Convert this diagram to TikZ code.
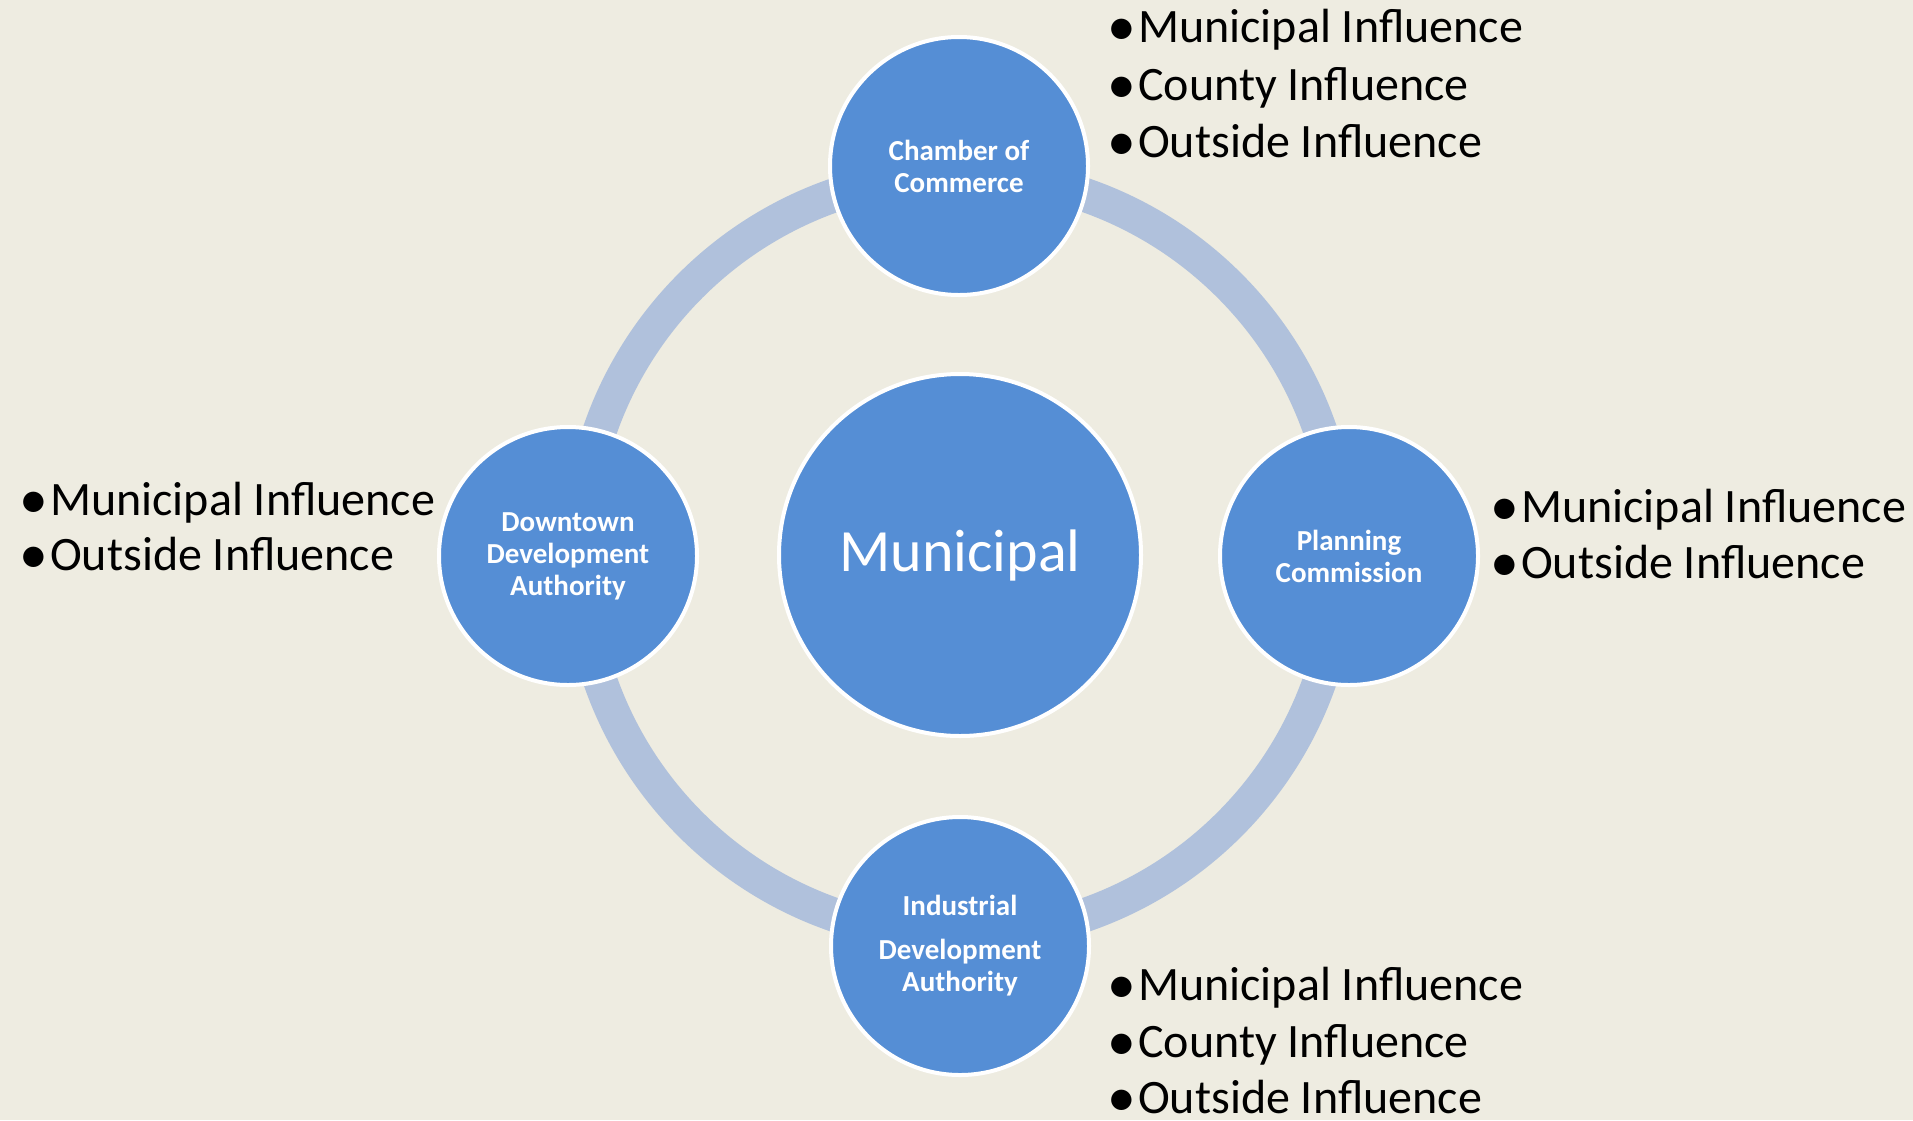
\documentclass[tikz,border=0pt]{standalone}
\usepackage{fontspec}
\setmainfont{Carlito}
\definecolor{bg}{HTML}{EEECE1}
\definecolor{nodeblue}{HTML}{558ED5}
\definecolor{ringblue}{HTML}{B0C1DC}
\newcommand{\bul}{\makebox[31pt][l]{\raisebox{-3pt}{\scalebox{1.2}{•}}}}
\begin{document}
\begin{tikzpicture}[x=1pt,y=-1pt,
  hub/.style={circle, fill=nodeblue, draw=white, line width=4pt, minimum size=362pt, inner sep=0pt, text=white, font=\fontsize{60}{72}\selectfont},
  sat/.style={circle, fill=nodeblue, draw=white, line width=4pt, minimum size=258pt, inner sep=0pt, text=white, align=center, font=\bfseries\fontsize{29}{32}\selectfont},
  item/.style={anchor=base west, inner sep=0pt, text=black, font=\fontsize{48}{57}\selectfont},
  ring/.style={draw=ringblue, line width=34pt},
]
\fill[bg] (0,0) rectangle (1913,1120);
\coordinate (c) at (960,555);
\draw[ring] (c) circle[radius=381pt];
\node[hub] (hub) at (c) {Municipal};
\node[sat] (coc) at (959,166) {Chamber of\\Commerce};
\node[sat] (pc) at (1349,556) {Planning\\Commission};
\node[sat] (ida) at (960,946) {Industrial\\[12pt]Development\\Authority};
\node[sat] (dda) at (568,556) {Downtown\\Development\\Authority};
% lists
\node[item] (t1) at (1107,42) {\bul Municipal Influence};
\node[item] (t2) at (1107,100) {\bul County Influence};
\node[item] (t3) at (1107,157) {\bul Outside Influence};
\node[item] (r1) at (1490,522) {\bul Municipal Influence};
\node[item] (r2) at (1490,578) {\bul Outside Influence};
\node[item] (b1) at (1107,1000) {\bul Municipal Influence};
\node[item] (b2) at (1107,1057) {\bul County Influence};
\node[item] (b3) at (1107,1113) {\bul Outside Influence};
\node[item] (l1) at (19,515) {\bul Municipal Influence};
\node[item] (l2) at (19,570) {\bul Outside Influence};
\end{tikzpicture}
\end{document}
